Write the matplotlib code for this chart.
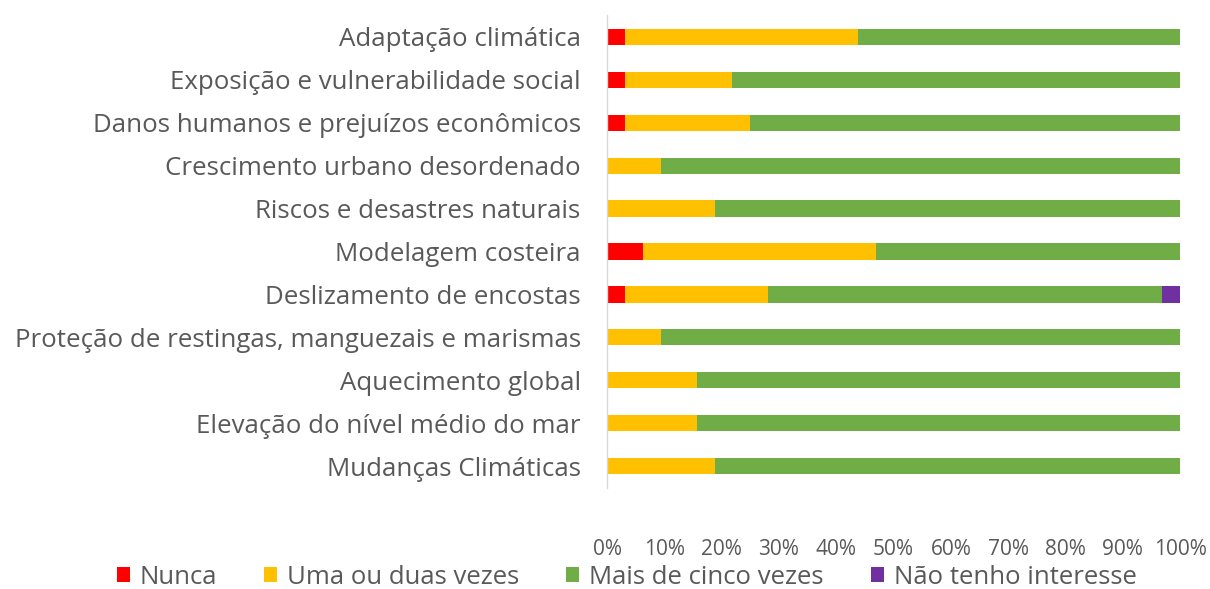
import matplotlib
matplotlib.use("Agg")
import matplotlib.pyplot as plt
import numpy as np

plt.rcParams['font.family'] = ['Open Sans', 'DejaVu Sans']

categories = [
    "Adaptação climática",
    "Exposição e vulnerabilidade social",
    "Danos humanos e prejuízos econômicos",
    "Crescimento urbano desordenado",
    "Riscos e desastres naturais",
    "Modelagem costeira",
    "Deslizamento de encostas",
    "Proteção de restingas, manguezais e marismas",
    "Aquecimento global",
    "Elevação do nível médio do mar",
    "Mudanças Climáticas",
]
series_names = ["Nunca", "Uma ou duas vezes", "Mais de cinco vezes", "Não tenho interesse"]
nunca = [3.125, 3.125, 3.125, 0, 0, 6.25, 3.125, 0, 0, 0, 0]
uma_duas = [40.625, 18.75, 21.875, 9.375, 18.75, 40.625, 25.0, 9.375, 15.625, 15.625, 18.75]
mais_cinco = [56.25, 78.125, 75.0, 90.625, 81.25, 53.125, 68.75, 90.625, 84.375, 84.375, 81.25]
nao_interesse = [0, 0, 0, 0, 0, 0, 3.125, 0, 0, 0, 0]
colors = ["#FF0000", "#FFC000", "#70AD47", "#7030A0"]
xticks = [0, 10, 20, 30, 40, 50, 60, 70, 80, 90, 100]

fig = plt.figure(figsize=(12.10, 5.89), dpi=100)
ax = fig.add_axes([0.5017, 0.1723, 0.4736, 0.8014])

y = np.arange(len(categories))
left = np.zeros(len(categories))
for name, vals, c in zip(series_names, [nunca, uma_duas, mais_cinco, nao_interesse], colors):
    vals = np.array(vals, dtype=float)
    ax.barh(y, vals, left=left, height=0.38, color=c, label=name)
    left += vals

ax.set_ylim(len(categories) - 0.5, -0.5)
ax.set_xlim(0, 100)
ax.set_yticks(y)
ax.set_yticklabels(categories, fontsize=18.6, color="#595959")
ax.set_xticks(xticks)
ax.set_xticklabels([f"{t}%" for t in xticks], fontsize=15, color="#595959")
ax.tick_params(axis='y', length=0, pad=19)
ax.tick_params(axis='x', length=0, pad=37)
for s in ["top", "right", "bottom"]:
    ax.spines[s].set_visible(False)
ax.spines["left"].set_color("#D9D9D9")
ax.spines["left"].set_linewidth(1)

handles, labels = ax.get_legend_handles_labels()
leg = fig.legend(handles, labels, loc="center", bbox_to_anchor=(0.518, 0.02), ncol=4,
                 frameon=False, fontsize=18.5, handlelength=0.5, handleheight=0.5,
                 handletextpad=0.39, columnspacing=1.83, borderpad=0, borderaxespad=0)
for t in leg.get_texts():
    t.set_color("#595959")

fig.savefig("out.png", dpi=100)
